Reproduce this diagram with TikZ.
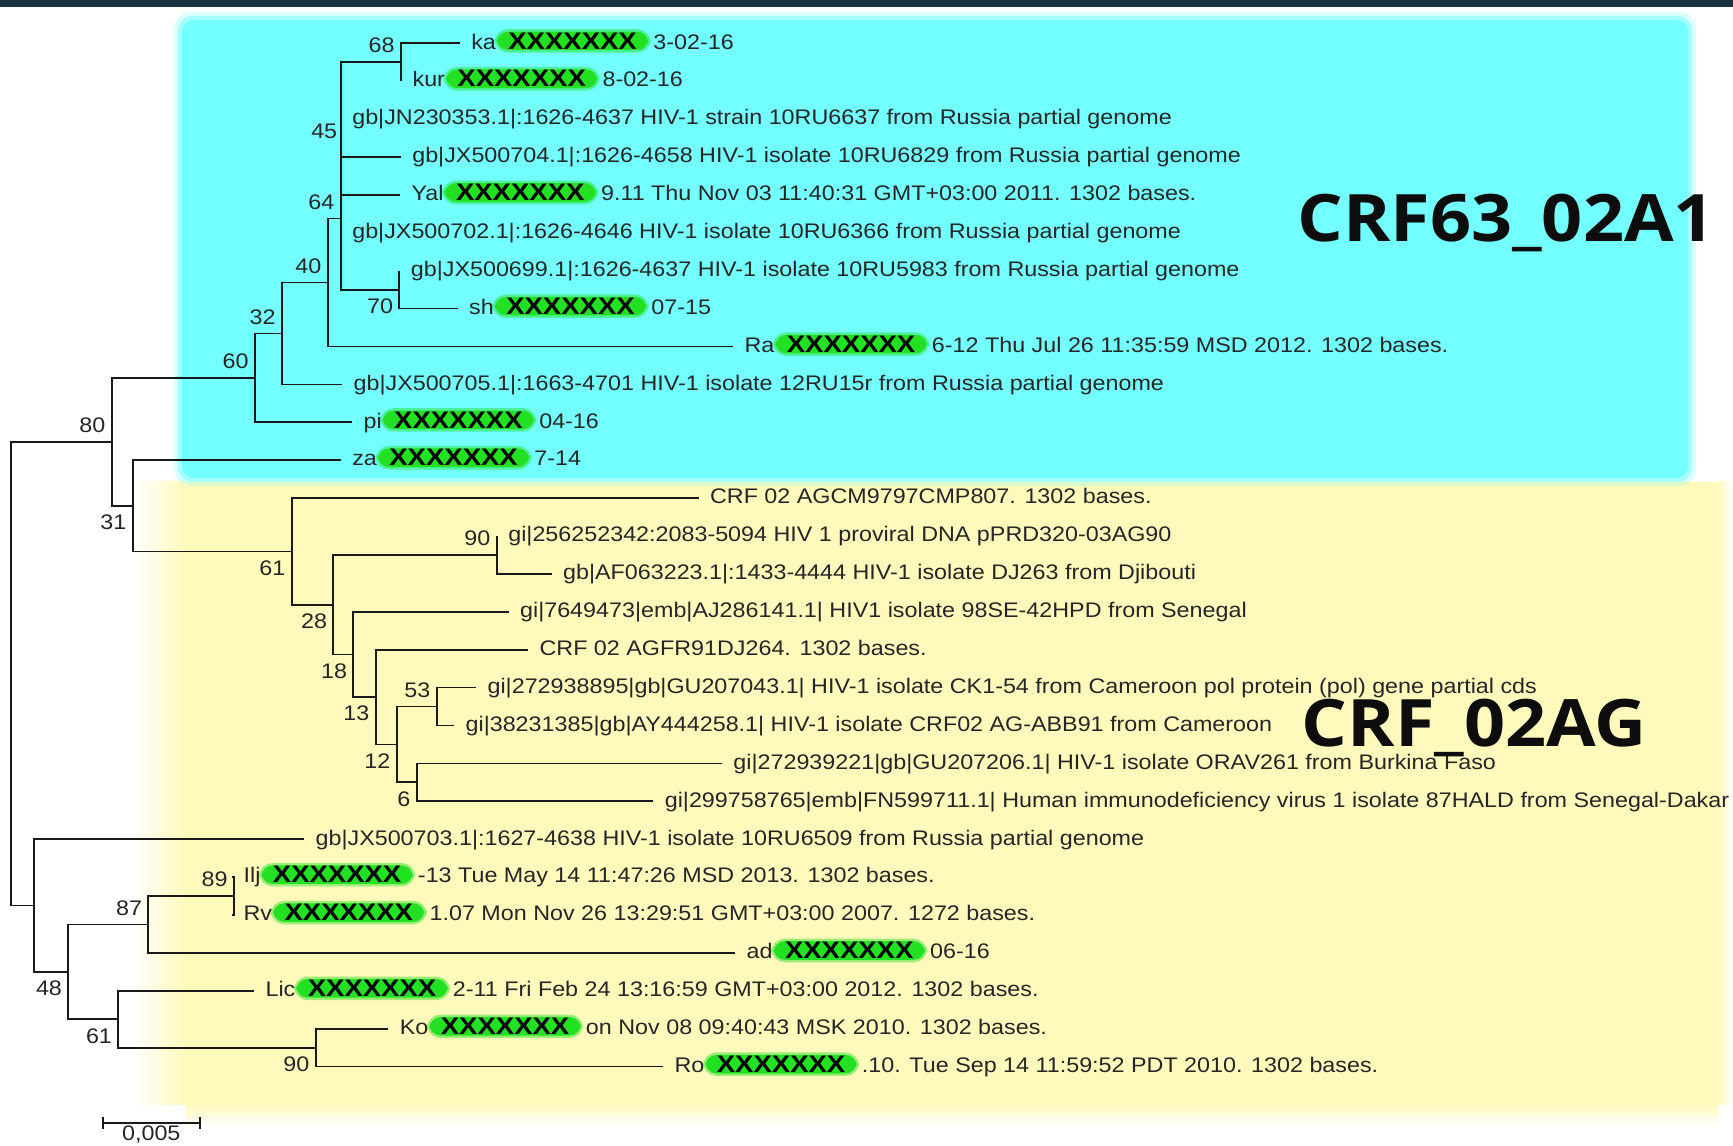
\documentclass[tikz,border=0pt]{standalone}
\usepackage{fontspec}
\setmainfont{Liberation Sans}[FakeStretch=1.105]
\newfontfamily\pillfont{Liberation Sans}[FakeStretch=1.15]
\newfontfamily\titlefont{Open Sans}[FakeStretch=1.1]
\usetikzlibrary{positioning}

\definecolor{pillgreen}{RGB}{34,224,34}
\definecolor{cyanbg}{RGB}{115,255,255}
\definecolor{yellowbg}{RGB}{255,249,188}
\definecolor{bardark}{RGB}{24,50,62}
\definecolor{barmid}{RGB}{62,108,106}

\tikzset{
	branch/.style={line width=0.5pt, black!90},
	leaf/.style={anchor=base west, inner sep=0pt, xshift=3.1pt, yshift=-1.65pt, font=\fontsize{6pt}{7pt}\selectfont, text=black!85},
	tail/.style={inner sep=0pt, font=\fontsize{6pt}{7pt}\selectfont, text=black!85},
	pill/.style={fill=pillgreen, draw=pillgreen, draw opacity=0.45, line width=1.4pt, rounded corners=3.2pt, minimum width=43pt, minimum height=5.3pt, inner xsep=0pt, inner ysep=0pt, font=\pillfont\bfseries\fontsize{6.8pt}{7pt}\selectfont, text=black},
	bsup/.style={anchor=south east, inner sep=0pt, xshift=-1.6pt, yshift=2.4pt, font=\fontsize{6pt}{7pt}\selectfont, text=black!85},
	bsdn/.style={anchor=north east, inner sep=0pt, xshift=-1.6pt, yshift=-2.4pt, font=\fontsize{6pt}{7pt}\selectfont, text=black!85},
	cladename/.style={anchor=base west, inner sep=0pt, font=\titlefont\bfseries\fontsize{18.6pt}{20pt}\selectfont, text=black!95}
}

\begin{document}
\begin{tikzpicture}[x=0.01cm, y=-0.01cm]
				\useasboundingbox (0,0) rectangle (1733,1146);
				\fill[white] (0,0) rectangle (1733,1146);
				\shade[left color=bardark, middle color=barmid, right color=bardark] (0,0) rectangle (1733,7);
				
				\fill[yellowbg] (185,482) rectangle (1718,1104);
				\shade[left color=white, right color=yellowbg] (133,482) rectangle (185,1104);
				\shade[top color=yellowbg, bottom color=white] (185,1104) rectangle (1718,1126);
				\shade[left color=yellowbg, right color=white] (1718,482) rectangle (1733,1104);
				\fill[cyanbg, opacity=0.25, rounded corners=5pt] (174,12) rectangle (1696,486);
				\fill[cyanbg, opacity=0.5, rounded corners=4pt] (178,16) rectangle (1692,482);
				\fill[cyanbg, rounded corners=3.4pt] (182,20) rectangle (1688,478);
				
				\coordinate (root) at (11,673.7);
				\coordinate (n80) at (111.7,441.85);
				\coordinate (n60) at (255,377.9);
				\coordinate (n32) at (282,333.5);
				\coordinate (n40) at (327.7,282.5);
				\coordinate (n64) at (340.7,218.6);
				\coordinate (n45) at (340.7,147.5);
				\coordinate (n68) at (401,62.25);
				\coordinate (n70) at (399.3,289.65);
				\coordinate (n31) at (132.7,505.8);
				\coordinate (n61) at (291.7,551.4);
				\coordinate (n90) at (496.7,554.95);
				\coordinate (n28) at (333.3,604.7);
				\coordinate (n18) at (353.3,654.45);
				\coordinate (n13) at (375.7,697.1);
				\coordinate (n12) at (396.7,744.45);
				\coordinate (n53) at (436.7,706.55);
				\coordinate (n6) at (416.7,782.35);
				\coordinate (nb) at (34.3,905.5);
				\coordinate (n48) at (68.3,971.85);
				\coordinate (n87) at (148.3,924.5);
				\coordinate (n89) at (234,896.05);
				\coordinate (n61b) at (118.3,1019.2);
				\coordinate (n90b) at (315.7,1047.65);
				
				\coordinate (t1) at (459.7,43.3);
				\coordinate (t2) at (401,81.2);
				\coordinate (t3) at (340.7,119.1);
				\coordinate (t4) at (400.7,157.0);
				\coordinate (t5) at (400,194.9);
				\coordinate (t6) at (340.7,232.8);
				\coordinate (t7) at (399.3,270.7);
				\coordinate (t8) at (457.6,308.6);
				\coordinate (t9) at (733,346.5);
				\coordinate (t10) at (342,384.4);
				\coordinate (t11) at (352,422.3);
				\coordinate (t12) at (340.7,460.2);
				\coordinate (t13) at (698.5,498.1);
				\coordinate (t14) at (496.7,536.0);
				\coordinate (t15) at (551.5,573.9);
				\coordinate (t16) at (508.5,611.8);
				\coordinate (t17) at (528,649.7);
				\coordinate (t18) at (476,687.6);
				\coordinate (t19) at (454,725.5);
				\coordinate (t20) at (721.8,763.4);
				\coordinate (t21) at (653.2,801.3);
				\coordinate (t22) at (304,839.2);
				\coordinate (t23) at (232,877.1);
				\coordinate (t24) at (232,915.0);
				\coordinate (t25) at (735,952.9);
				\coordinate (t26) at (254,990.8);
				\coordinate (t27) at (388.3,1028.7);
				\coordinate (t28) at (663,1066.6);
				
				\draw[branch] (root) |- (n80);
				\draw[branch] (root) |- (nb);
				\draw[branch] (n80) |- (n60);
				\draw[branch] (n80) |- (n31);
				\draw[branch] (n60) |- (n32);
				\draw[branch] (n60) |- (t11);
				\draw[branch] (n32) |- (n40);
				\draw[branch] (n32) |- (t10);
				\draw[branch] (n40) |- (n64);
				\draw[branch] (n40) |- (t9);
				\draw[branch] (n64) |- (n45);
				\draw[branch] (n64) |- (n70);
				\draw[branch] (n45) |- (n68);
				\draw[branch] (n45) |- (t3);
				\draw[branch] (n45) |- (t4);
				\draw[branch] (n45) |- (t5);
				\draw[branch] (n45) |- (t6);
				\draw[branch] (n68) |- (t1);
				\draw[branch] (n68) |- (t2);
				\draw[branch] (n70) |- (t7);
				\draw[branch] (n70) |- (t8);
				\draw[branch] (n31) |- (t12);
				\draw[branch] (n31) |- (n61);
				\draw[branch] (n61) |- (t13);
				\draw[branch] (n61) |- (n28);
				\draw[branch] (n28) |- (n90);
				\draw[branch] (n28) |- (n18);
				\draw[branch] (n90) |- (t14);
				\draw[branch] (n90) |- (t15);
				\draw[branch] (n18) |- (t16);
				\draw[branch] (n18) |- (n13);
				\draw[branch] (n13) |- (t17);
				\draw[branch] (n13) |- (n12);
				\draw[branch] (n12) |- (n53);
				\draw[branch] (n12) |- (n6);
				\draw[branch] (n53) |- (t18);
				\draw[branch] (n53) |- (t19);
				\draw[branch] (n6) |- (t20);
				\draw[branch] (n6) |- (t21);
				\draw[branch] (nb) |- (t22);
				\draw[branch] (nb) |- (n48);
				\draw[branch] (n48) |- (n87);
				\draw[branch] (n48) |- (n61b);
				\draw[branch] (n87) |- (n89);
				\draw[branch] (n87) |- (t25);
				\draw[branch] (n89) |- (t23);
				\draw[branch] (n89) |- (t24);
				\draw[branch] (n61b) |- (t26);
				\draw[branch] (n61b) |- (n90b);
				\draw[branch] (n90b) |- (t27);
				\draw[branch] (n90b) |- (t28);
				
				\node[bsup] (b68) at (n68) {68};
				\node[bsup, xshift=0.8pt] (b45) at (n45) {45};
				\node[bsup] (b64) at (n64) {64};
				\node[bsdn] (b70) at (n70) {70};
				\node[bsup] (b40) at (n40) {40};
				\node[bsup] (b32) at (n32) {32};
				\node[bsup] (b60) at (n60) {60};
				\node[bsup] (b80) at (n80) {80};
				\node[bsdn] (b31) at (n31) {31};
				\node[bsdn] (b61) at (n61) {61};
				\node[bsup] (b90) at (n90) {90};
				\node[bsdn] (b28) at (n28) {28};
				\node[bsdn] (b18) at (n18) {18};
				\node[bsdn] (b13) at (n13) {13};
				\node[bsdn] (b12) at (n12) {12};
				\node[bsup] (b53) at (n53) {53};
				\node[bsdn] (b6) at (n6) {6};
				\node[bsdn] (b48) at (n48) {48};
				\node[bsup] (b87) at (n87) {87};
				\node[bsup] (b89) at (n89) {89};
				\node[bsdn] (b61b) at (n61b) {61};
				\node[bsdn] (b90b) at (n90b) {90};
				
				\node[leaf] (l1) at (t1) {ka};
				\node[pill, base right=-0.6pt of l1] (p1) {XXXXXXX};
				\node[tail, base right=0.6pt of p1] (s1) {3-02-16};
				\node[leaf] (l2) at (t2) {kur};
				\node[pill, base right=-0.6pt of l2] (p2) {XXXXXXX};
				\node[tail, base right=0.6pt of p2] (s2) {8-02-16};
				\node[leaf] (l3) at (t3) {gb|JN230353.1|:1626-4637 HIV-1 strain 10RU6637 from Russia partial genome};
				\node[leaf] (l4) at (t4) {gb|JX500704.1|:1626-4658 HIV-1 isolate 10RU6829 from Russia partial genome};
				\node[leaf] (l5) at (t5) {Yal};
				\node[pill, base right=-0.6pt of l5] (p5) {XXXXXXX};
				\node[tail, base right=0.6pt of p5] (s5) {9.11 Thu Nov 03 11:40:31 GMT+03:00 2011. 1302 bases.};
				\node[leaf] (l6) at (t6) {gb|JX500702.1|:1626-4646 HIV-1 isolate 10RU6366 from Russia partial genome};
				\node[leaf] (l7) at (t7) {gb|JX500699.1|:1626-4637 HIV-1 isolate 10RU5983 from Russia partial genome};
				\node[leaf] (l8) at (t8) {sh};
				\node[pill, base right=-0.6pt of l8] (p8) {XXXXXXX};
				\node[tail, base right=0.6pt of p8] (s8) {07-15};
				\node[leaf] (l9) at (t9) {Ra};
				\node[pill, base right=-0.6pt of l9] (p9) {XXXXXXX};
				\node[tail, base right=0.6pt of p9] (s9) {6-12 Thu Jul 26 11:35:59 MSD 2012. 1302 bases.};
				\node[leaf] (l10) at (t10) {gb|JX500705.1|:1663-4701 HIV-1 isolate 12RU15r from Russia partial genome};
				\node[leaf] (l11) at (t11) {pi};
				\node[pill, base right=-0.6pt of l11] (p11) {XXXXXXX};
				\node[tail, base right=0.6pt of p11] (s11) {04-16};
				\node[leaf] (l12) at (t12) {za};
				\node[pill, base right=-0.6pt of l12] (p12) {XXXXXXX};
				\node[tail, base right=0.6pt of p12] (s12) {7-14};
				\node[leaf] (l13) at (t13) {CRF 02 AGCM9797CMP807. 1302 bases.};
				\node[leaf] (l14) at (t14) {gi|256252342:2083-5094 HIV 1 proviral DNA pPRD320-03AG90};
				\node[leaf] (l15) at (t15) {gb|AF063223.1|:1433-4444 HIV-1 isolate DJ263 from Djibouti};
				\node[leaf] (l16) at (t16) {gi|7649473|emb|AJ286141.1| HIV1 isolate 98SE-42HPD from Senegal};
				\node[leaf] (l17) at (t17) {CRF 02 AGFR91DJ264. 1302 bases.};
				\node[leaf] (l18) at (t18) {gi|272938895|gb|GU207043.1| HIV-1 isolate CK1-54 from Cameroon pol protein (pol) gene partial cds};
				\node[leaf] (l19) at (t19) {gi|38231385|gb|AY444258.1| HIV-1 isolate CRF02 AG-ABB91 from Cameroon};
				\node[leaf] (l20) at (t20) {gi|272939221|gb|GU207206.1| HIV-1 isolate ORAV261 from Burkina Faso};
				\node[leaf] (l21) at (t21) {gi|299758765|emb|FN599711.1| Human immunodeficiency virus 1 isolate 87HALD from Senegal-Dakar};
				\node[leaf] (l22) at (t22) {gb|JX500703.1|:1627-4638 HIV-1 isolate 10RU6509 from Russia partial genome};
				\node[leaf] (l23) at (t23) {Ilj};
				\node[pill, base right=-0.6pt of l23] (p23) {XXXXXXX};
				\node[tail, base right=0.6pt of p23] (s23) {-13 Tue May 14 11:47:26 MSD 2013. 1302 bases.};
				\node[leaf] (l24) at (t24) {Rv};
				\node[pill, base right=-0.6pt of l24] (p24) {XXXXXXX};
				\node[tail, base right=0.6pt of p24] (s24) {1.07 Mon Nov 26 13:29:51 GMT+03:00 2007. 1272 bases.};
				\node[leaf] (l25) at (t25) {ad};
				\node[pill, base right=-0.6pt of l25] (p25) {XXXXXXX};
				\node[tail, base right=0.6pt of p25] (s25) {06-16};
				\node[leaf] (l26) at (t26) {Lic};
				\node[pill, base right=-0.6pt of l26] (p26) {XXXXXXX};
				\node[tail, base right=0.6pt of p26] (s26) {2-11 Fri Feb 24 13:16:59 GMT+03:00 2012. 1302 bases.};
				\node[leaf] (l27) at (t27) {Ko};
				\node[pill, base right=-0.6pt of l27] (p27) {XXXXXXX};
				\node[tail, base right=0.6pt of p27] (s27) {on Nov 08 09:40:43 MSK 2010. 1302 bases.};
				\node[leaf] (l28) at (t28) {Ro};
				\node[pill, base right=-0.6pt of l28] (p28) {XXXXXXX};
				\node[tail, base right=0.6pt of p28] (s28) {.10. Tue Sep 14 11:59:52 PDT 2010. 1302 bases.};
				
				\node[cladename] (crf63) at (1296.7,241.7) {CRF63\_02A1};
				\node[cladename] (crf02) at (1301,746) {CRF\_02AG};
				
				\coordinate (sb1) at (102.7,1122.7);
				\coordinate (sb2) at (200,1122.7);
				\draw[branch] (sb1) -- (sb2);
				\draw[branch] ([yshift=1.65pt]sb1) -- ([yshift=-1.65pt]sb1);
				\draw[branch] ([yshift=1.65pt]sb2) -- ([yshift=-1.65pt]sb2);
				\node[tail, anchor=north] (sbtext) at (151.3,1125.5) {0,005};
			\end{tikzpicture}
\end{document}
